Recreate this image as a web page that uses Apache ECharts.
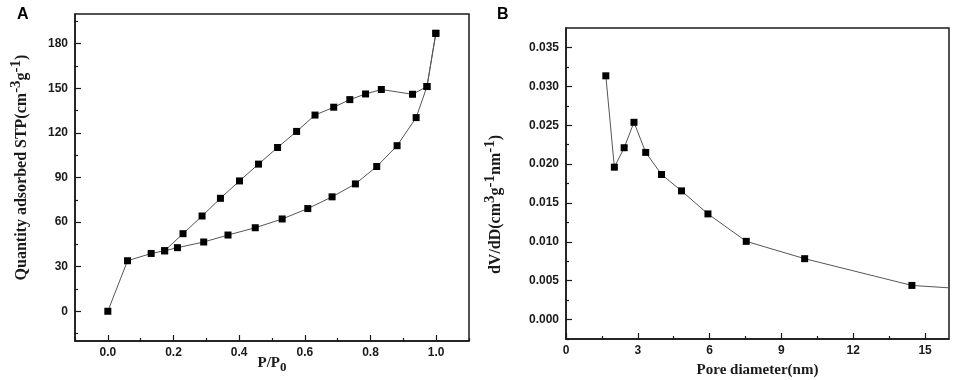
<!DOCTYPE html>
<html>
<head>
<meta charset="utf-8">
<script src="https://cdn.jsdelivr.net/npm/echarts@6/dist/echarts.min.js"></script>
<style>
	html, body { margin: 0; padding: 0; background: #fff; }
	#chartDom { width: 957px; height: 380px; }
</style>
</head>
<body>
<div id="chartDom"></div>
<script>
// panel A: N2 isotherm
var adsX = [0.000, 0.060, 0.132, 0.173, 0.212, 0.292, 0.366, 0.449, 0.531, 0.609, 0.683, 0.754, 0.819, 0.881, 0.939, 0.972, 0.999];
var adsY = [0, 34, 38.9, 40.7, 42.8, 46.6, 51.3, 56.2, 62.1, 69.1, 77, 85.7, 97.4, 111.4, 130.3, 151.2, 187];
var desX = [0.999, 0.972, 0.928, 0.833, 0.785, 0.737, 0.688, 0.631, 0.575, 0.517, 0.459, 0.401, 0.343, 0.287, 0.229, 0.173];
var desY = [187, 151.2, 146, 149.2, 146.2, 142.4, 137.3, 132, 121, 110.2, 99, 87.7, 76, 64.1, 52.2, 40.7];
var aXLabels = [0, 0.2, 0.4, 0.6, 0.8, 1.0];
var aXMinor = [-0.1, 0.1, 0.3, 0.5, 0.7, 0.9, 1.1];
var aYLabels = [0, 30, 60, 90, 120, 150, 180];
var aYMinor = [-15, 15, 45, 75, 105, 135, 165, 195];

// panel B: pore size distribution
var poreD = [1.664, 2.02, 2.43, 2.84, 3.33, 3.99, 4.825, 5.93, 7.53, 9.97, 14.45, 16.0];
var poreV = [0.03135, 0.0196, 0.0221, 0.02537, 0.0215, 0.01866, 0.01655, 0.01359, 0.01006, 0.00783, 0.00439, 0.00408];
var bXLabels = [0, 3, 6, 9, 12, 15];
var bXMinor = [1.5, 4.5, 7.5, 10.5, 13.5];
var bYLabels = [0, 0.005, 0.010, 0.015, 0.020, 0.025, 0.030, 0.035];
var bYMinor = [-0.0025, 0.0025, 0.0075, 0.0125, 0.0175, 0.0225, 0.0275, 0.0325];

function pairs(xs, ys) {
	return xs.map(function(x, i) { return [x, ys[i]]; });
}

var dom = document.getElementById("chartDom");
var myChart = echarts.init(dom);

var dark = '#1a1a1a';
var labelStyle = {
	color: dark,
	fontSize: 12,
	fontWeight: 'bold',
	fontFamily: 'Liberation Sans'
};
var nameRich = {
	t: { fontSize: 15, fontWeight: 'bold', fontFamily: 'Liberation Serif', color: dark },
	y: { fontSize: 16, fontWeight: 'bold', fontFamily: 'Liberation Serif', color: dark },
	s: { fontSize: 15, fontWeight: 'bold', fontFamily: 'Liberation Serif', color: dark, padding: [0, 0, 10, 0] },
	b: { fontSize: 13, fontWeight: 'bold', fontFamily: 'Liberation Serif', color: dark, padding: [9, 0, 0, 0] }
};

function mainAxis(opt) {
	return Object.assign({
		type: 'value',
		axisLine: { show: true, onZero: false, lineStyle: { color: dark, width: 1.5 } },
		splitLine: { show: false },
		nameLocation: 'middle',
		nameMoveOverlap: false
	}, opt);
}

function minorAxis(opt) {
	return Object.assign({
		type: 'value',
		axisLine: { show: false, onZero: false },
		splitLine: { show: false },
		axisLabel: { show: false }
	}, opt);
}

function ticks(values, len) {
	return { show: true, inside: true, length: len, customValues: values, lineStyle: { color: dark, width: 1.2 } };
}

var lineSeries = {
	type: 'line',
	symbol: 'rect',
	symbolSize: 7,
	itemStyle: { color: '#000' },
	lineStyle: { color: '#555', width: 1 },
	animation: false
};

option = {
	title: [
		{ text: 'A', left: 12, top: 2, textStyle: { fontSize: 16, fontWeight: 'bold', fontFamily: 'Liberation Sans', color: '#000' } },
		{ text: 'B', left: 492, top: 2, textStyle: { fontSize: 16, fontWeight: 'bold', fontFamily: 'Liberation Sans', color: '#000' } }
	],
	grid: [
		{ left: 75, right: 488, top: 14, bottom: 39, outerBoundsMode: 'none', show: true, borderColor: dark, borderWidth: 1.5 },
		{ left: 566, right: 8, top: 28, bottom: 41, outerBoundsMode: 'none', show: true, borderColor: dark, borderWidth: 1.5 }
	],
	xAxis: [
		mainAxis({
			gridIndex: 0, min: -0.1, max: 1.1, position: 'bottom',
			axisLabel: Object.assign({ margin: 6, customValues: aXLabels, formatter: function(v) { return v.toFixed(1); } }, labelStyle),
			axisTick: ticks(aXLabels, 6),
			name: '{t|P/P}{b|0}', nameGap: 11,
			nameTextStyle: { rich: nameRich }
		}),
		minorAxis({ gridIndex: 0, min: -0.1, max: 1.1, position: 'bottom', axisTick: ticks(aXMinor, 3) }),
		mainAxis({
			gridIndex: 1, min: 0, max: 16, position: 'bottom',
			axisLabel: Object.assign({ margin: 6, customValues: bXLabels }, labelStyle),
			axisTick: ticks(bXLabels, 6),
			name: '{t|Pore diameter(nm)}', nameGap: 24,
			nameTextStyle: { rich: nameRich }
		}),
		minorAxis({ gridIndex: 1, min: 0, max: 16, position: 'bottom', axisTick: ticks(bXMinor, 3) })
	],
	yAxis: [
		mainAxis({
			gridIndex: 0, min: -20, max: 200, position: 'left',
			axisLabel: Object.assign({ margin: 7, customValues: aYLabels }, labelStyle),
			axisTick: ticks(aYLabels, 6),
			name: '{y|Quantity adsorbed STP(cm}{s|-3}{y|g}{s|-1}{y|)}', nameGap: 41,
			nameTextStyle: { rich: nameRich, padding: [0, 0, 0, 20] }
		}),
		minorAxis({ gridIndex: 0, min: -20, max: 200, position: 'left', axisTick: ticks(aYMinor, 3) }),
		mainAxis({
			gridIndex: 1, min: -0.0025, max: 0.0375, position: 'left',
			axisLabel: Object.assign({ margin: 7, customValues: bYLabels, formatter: function(v) { return v.toFixed(3); } }, labelStyle),
			axisTick: ticks(bYLabels, 6),
			name: '{y|dV/dD(cm}{s|3}{y|g}{s|-1}{y|nm}{s|-1}{y|)}', nameGap: 58,
			nameTextStyle: { rich: nameRich, padding: [0, 42, 0, 0] }
		}),
		minorAxis({ gridIndex: 1, min: -0.0025, max: 0.0375, position: 'left', axisTick: ticks(bYMinor, 3) })
	],
	series: [
		Object.assign({ name: 'adsorption', xAxisIndex: 0, yAxisIndex: 0, data: pairs(adsX, adsY) }, lineSeries),
		Object.assign({ name: 'desorption', xAxisIndex: 0, yAxisIndex: 0, data: pairs(desX, desY) }, lineSeries),
		Object.assign({
			name: 'pore', xAxisIndex: 2, yAxisIndex: 2, clip: true,
			data: pairs(poreD, poreV).map(function(p, i) {
				return i === poreD.length - 1 ? { value: p, symbol: 'none' } : p;
			})
		}, lineSeries)
	]
};
myChart.setOption(option, true);
</script>
</body>
</html>
